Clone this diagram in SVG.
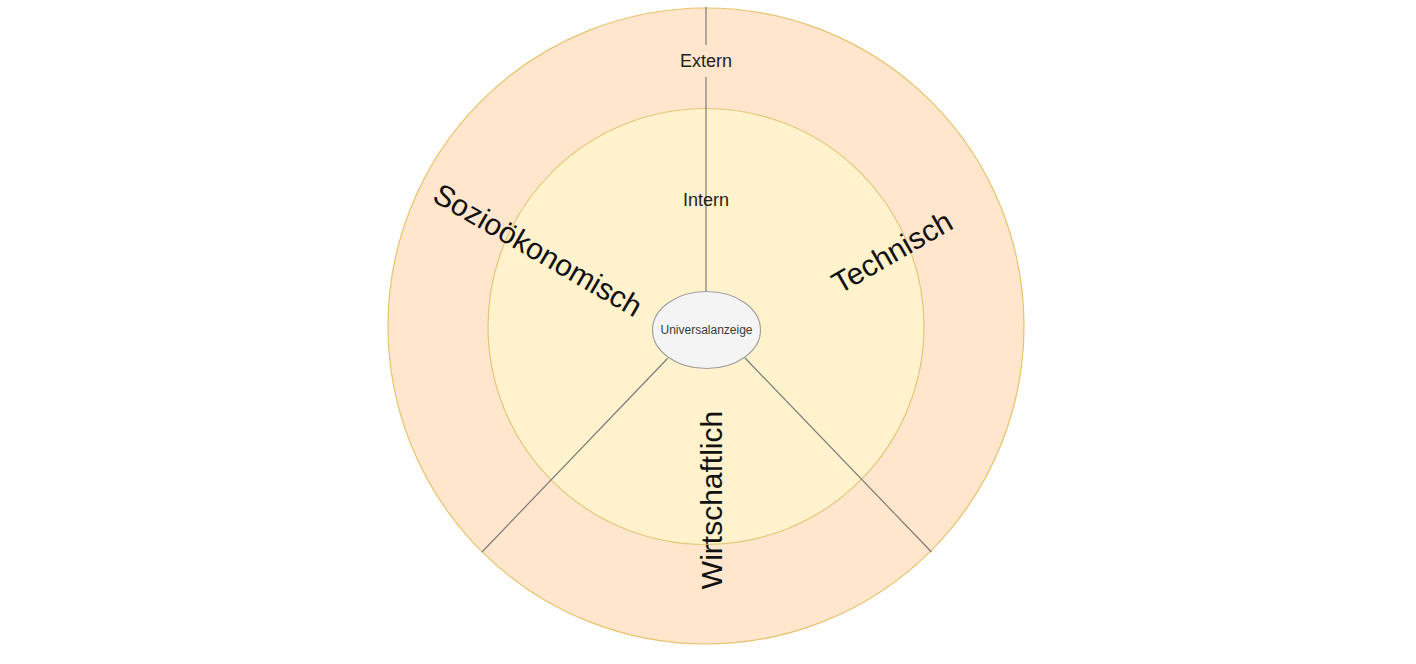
<svg xmlns="http://www.w3.org/2000/svg" width="1416" height="664" viewBox="0 0 1416 664">
  <style>
    .ring-outer { fill: #ffe6cc; stroke: #e8c36e; stroke-width: 1.2; }
    .ring-inner { fill: #fff2cc; stroke: #e3c77a; stroke-width: 1.2; }
    .conn { stroke: #7a7a7a; stroke-width: 1.2; fill: none; }
    .center { fill: #f4f4f4; stroke: #a0a0a0; stroke-width: 1.2; }
    .lbl { font-family: "Liberation Sans", Arial, sans-serif; fill: #222; text-anchor: middle; }
    .big { font-size: 30px; fill: #111; }
    .mid { font-size: 18px; }
    .small { font-size: 12px; fill: #3a3a3a; }
  </style>
  <rect width="1416" height="664" fill="#ffffff"/>
  <g id="extern">
    <circle class="ring-outer" cx="706" cy="326" r="318"/>
  </g>
  <g id="intern">
    <circle class="ring-inner" cx="706" cy="326.5" r="218"/>
  </g>
  <g id="connectors">
    <line class="conn" x1="706" y1="7" x2="706" y2="292"/>
    <line class="conn" x1="667.5" y1="358.5" x2="482" y2="552"/>
    <line class="conn" x1="745" y1="358" x2="931.5" y2="552"/>
  </g>
  <g id="extern-label">
    <rect x="677" y="45" width="58" height="32" fill="#ffe6cc"/>
    <text class="lbl mid" x="706" y="66.5">Extern</text>
  </g>
  <g id="intern-label">
    <text class="lbl mid" x="706" y="205.5">Intern</text>
  </g>
  <g id="universalanzeige">
    <ellipse class="center" cx="706.5" cy="330" rx="54" ry="38.5"/>
    <text class="lbl small" x="706.5" y="334">Universalanzeige</text>
  </g>
  <g id="sozio">
    <text class="lbl big" transform="translate(538,250) rotate(30)" y="10.5">Sozioökonomisch</text>
  </g>
  <g id="technisch">
    <text class="lbl big" transform="translate(892,252) rotate(-30)" y="10.5">Technisch</text>
  </g>
  <g id="wirtschaftlich">
    <text class="lbl big" transform="translate(711,500) rotate(-90)" y="10.5">Wirtschaftlich</text>
  </g>
</svg>
